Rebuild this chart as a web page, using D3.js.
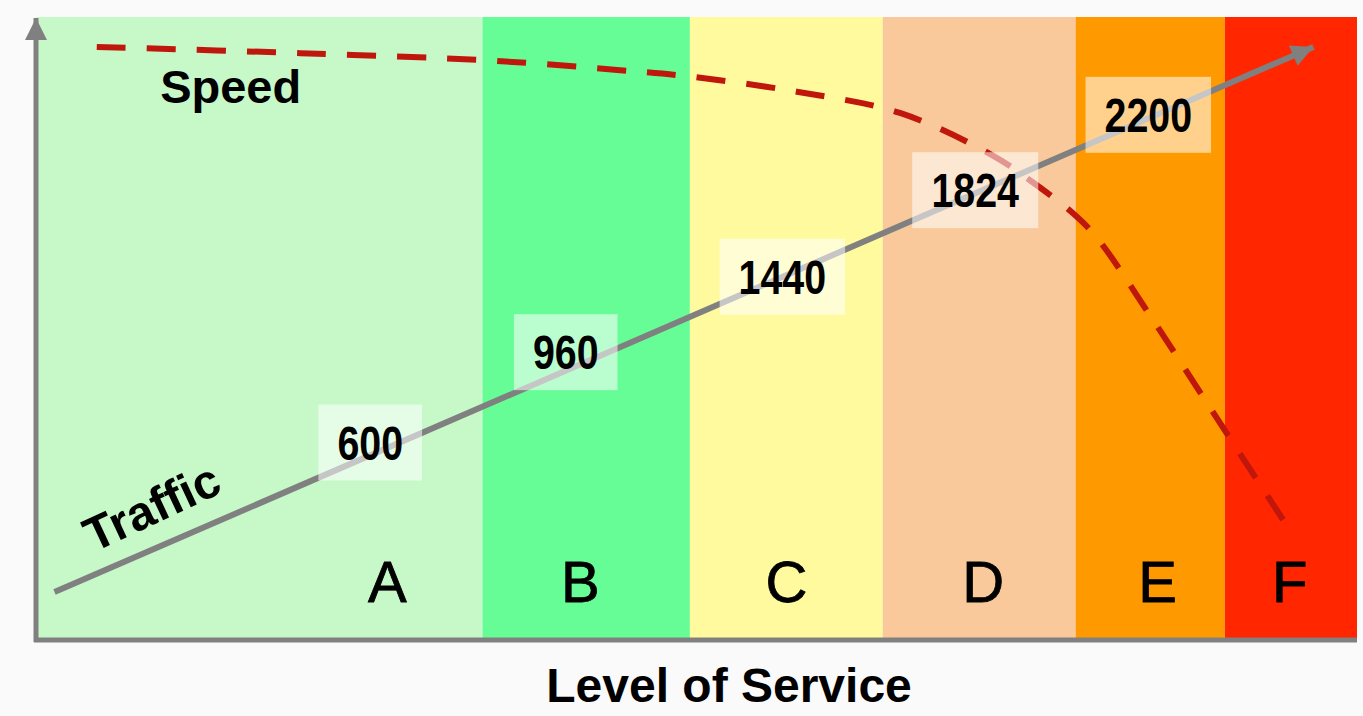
<!DOCTYPE html>
<html>
<head>
<meta charset="utf-8">
<script src="https://cdn.jsdelivr.net/npm/d3@7"></script>
<style>
  body { margin: 0; background: #fafafa; }
  text { font-family: "Liberation Sans", Arial, sans-serif; }
</style>
</head>
<body>
<div id="chart"></div>
<script>
// level of service bands (x in % of flow range)
const bandNames = ["A", "B", "C", "D", "E", "F"];
const bandEdges = [0, 33.8, 49.5, 64.1, 78.7, 90.0, 100];
const bandColors = ["#c6f8c8", "#66fd96", "#fffa9e", "#f9c99b", "#ff9900", "#ff2600"];
const letterX = [26.6, 41.2, 56.8, 71.7, 84.9, 94.9];

// traffic (straight arrow) and speed (dashed curve), in % units
const trafficX = [1.4, 96.7];
const trafficY = [7.7, 95.2];
const speedX = [4.6, 20.0, 34.4, 44.0, 49.7, 57.6, 65.4, 72.4, 75.5, 78.5, 80.3, 84.3, 88.9, 94.4];
const speedY = [95.2, 94.2, 93.0, 91.5, 90.4, 88.0, 84.6, 77.8, 73.4, 68.5, 64.6, 52.2, 37.2, 19.3];

// traffic volume labels and where they sit
const trafficLabels = ["600", "960", "1440", "1824", "2200"];
const labelX = [25.3, 40.1, 56.5, 71.1, 84.2];
const labelY = [31.7, 46.2, 58.3, 72.2, 84.3];

const width = 1363,
  height = 716;
const plot = { left: 36, right: 1357, top: 17, bottom: 640 };

const svg = d3
  .select("#chart")
  .append("svg")
  .attr("width", width)
  .attr("height", height);

const x = d3.scaleLinear().domain([0, 100]).range([plot.left, plot.right]);
const y = d3.scaleLinear().domain([0, 100]).range([plot.bottom, plot.top]);

const defs = svg.append("defs");
defs
  .append("marker")
  .attr("id", "arrow")
  .attr("viewBox", "0 0 10 10")
  .attr("refX", 10)
  .attr("refY", 5)
  .attr("markerUnits", "userSpaceOnUse")
  .attr("markerWidth", 26)
  .attr("markerHeight", 22)
  .attr("orient", "auto")
  .append("path")
  .attr("d", "M0,0L10,5L0,10z")
  .attr("fill", "#808080");

// bands
const bands = bandNames.map((name, i) => ({
  name,
  x0: bandEdges[i],
  x1: bandEdges[i + 1],
  color: bandColors[i],
  lx: letterX[i],
}));

svg
  .selectAll("rect.band")
  .data(bands)
  .join("rect")
  .attr("class", "band")
  .attr("x", (d) => x(d.x0))
  .attr("y", plot.top)
  .attr("width", (d) => x(d.x1) - x(d.x0))
  .attr("height", plot.bottom - plot.top)
  .attr("fill", (d) => d.color);

svg
  .selectAll("text.letter")
  .data(bands)
  .join("text")
  .attr("class", "letter")
  .attr("x", (d) => x(d.lx))
  .attr("y", 602)
  .attr("text-anchor", "middle")
  .attr("stroke", "#000")
  .attr("stroke-width", 0.8)
  .style("font-size", "58px")
  .text((d) => d.name);

// axes
svg
  .append("line")
  .attr("x1", plot.left - 2)
  .attr("x2", plot.right)
  .attr("y1", plot.bottom)
  .attr("y2", plot.bottom)
  .attr("stroke", "#808080")
  .attr("stroke-width", 5);

svg
  .append("line")
  .attr("x1", plot.left)
  .attr("x2", plot.left)
  .attr("y1", plot.bottom + 2)
  .attr("y2", plot.top + 1)
  .attr("stroke", "#808080")
  .attr("stroke-width", 5)
  .attr("marker-end", "url(#arrow)");

// speed curve
const speed = speedX.map((v, i) => [v, speedY[i]]);
const speedPath = svg
  .append("path")
  .datum(speed)
  .attr("d", d3.line().x((d) => x(d[0])).y((d) => y(d[1])).curve(d3.curveCatmullRom))
  .attr("fill", "none")
  .attr("stroke", "#c0170c")
  .attr("stroke-width", 6);

// stretch the gaps a little so the curve starts and ends on a full dash
const dash = 29;
const len = speedPath.node().getTotalLength();
const n = Math.round((len - dash) / (dash + 22));
const gap = (len - dash) / n - dash;
speedPath.attr("stroke-dasharray", `${dash} ${gap}`);

// traffic arrow
const traffic = trafficX.map((v, i) => [v, trafficY[i]]);
svg
  .append("path")
  .datum(traffic)
  .attr("d", d3.line().x((d) => x(d[0])).y((d) => y(d[1])))
  .attr("fill", "none")
  .attr("stroke", "#808080")
  .attr("stroke-width", 6)
  .attr("marker-end", "url(#arrow)");

// volume labels
const labels = svg
  .selectAll("g.vol")
  .data(trafficLabels.map((t, i) => ({ t, x: labelX[i], y: labelY[i] })))
  .join("g")
  .attr("class", "vol")
  .attr("transform", (d) => `translate(${x(d.x)},${y(d.y)})`);

labels
  .append("text")
  .attr("text-anchor", "middle")
  .attr("y", 17)
  .attr("transform", "scale(0.82,1)")
  .style("font-size", "48px")
  .style("font-weight", "bold")
  .attr("fill", "#000")
  .text((d) => d.t);

labels.each(function () {
  const g = d3.select(this);
  const w = g.select("text").node().getBBox().width * 0.82 + 38;
  g.insert("rect", "text")
    .attr("x", -w / 2)
    .attr("y", -38)
    .attr("width", w)
    .attr("height", 76)
    .attr("fill", "#fff")
    .attr("fill-opacity", 0.55);
});

// series names
svg
  .append("text")
  .attr("x", x(9.4))
  .attr("y", y(86.2))
  .style("font-size", "47px")
  .style("font-weight", "bold")
  .text("Speed");

svg
  .append("text")
  .attr("transform", `translate(${x(9.3)},${y(18.9)}) rotate(-25)`)
  .attr("text-anchor", "middle")
  .style("font-size", "48px")
  .style("font-weight", "bold")
  .text("Traffic");

svg
  .append("text")
  .attr("x", 729)
  .attr("y", 702)
  .attr("text-anchor", "middle")
  .style("font-size", "48px")
  .style("font-weight", "bold")
  .text("Level of Service");
</script>
</body>
</html>
